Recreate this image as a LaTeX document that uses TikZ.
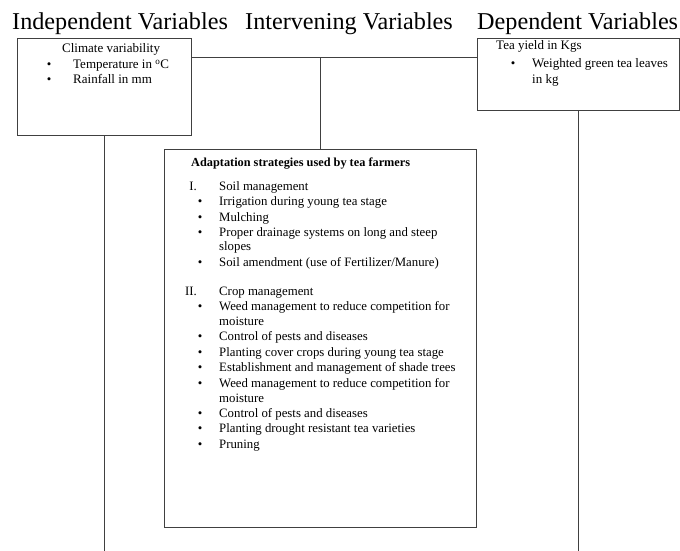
\documentclass[tikz,border=0pt]{standalone}
\usepackage{fontspec}
\setmainfont{Liberation Serif}
\begin{document}
\begin{tikzpicture}[x=1pt,y=-1pt,
  box/.style={draw=black!75,line width=0.8pt,inner sep=0pt},
  conn/.style={draw=black!75,line width=0.8pt},
  hdr/.style={anchor=base west,inner sep=0pt,font=\fontsize{24.2}{27}\selectfont},
  txt/.style={anchor=base west,inner sep=0pt,font=\fontsize{12.8}{15}\selectfont},
  stxt/.style={anchor=base west,inner sep=0pt,font=\fontsize{13}{15}\selectfont},
  num/.style={anchor=base east,inner sep=0pt,font=\fontsize{12.8}{15}\selectfont},
  bul/.style={anchor=base,inner sep=0pt,font=\fontsize{12.8}{15}\selectfont}]
\useasboundingbox (0,0) rectangle (680,551);
% headers
\node[hdr] (h1) at (12,30) {Independent Variables};
\node[hdr] (h2) at (245,30) {Intervening Variables};
\node[hdr] (h3) at (477,30) {Dependent Variables};
% boxes
\node[box,minimum width=174pt,minimum height=97pt] (ind) at (104,86.5) {};
\node[box,minimum width=202pt,minimum height=72pt] (dep) at (578,74) {};
\node[box,minimum width=312pt,minimum height=378pt] (med) at (320,338) {};
% connectors
\coordinate (j) at (320,57.5);
\coordinate (bot) at (0,551);
\draw[conn] (ind.east |- j) -- (dep.west |- j);
\draw[conn] (j) -- (med.north);
\draw[conn] (ind.south) -- (ind.south |- bot);
\draw[conn] (dep.south) -- (dep.south |- bot);
% left box text
\node[stxt] (l1) at (62,53) {Climate variability};
\node[bul] (lb1) at (49,68.5) {\textbullet};
\node[stxt] (l2) at (73,68.5) {Temperature in \textsuperscript{o}C};
\node[bul] (lb2) at (49,83) {\textbullet};
\node[stxt] (l3) at (73,83) {Rainfall in mm};
% right box text
\node[stxt] (r1) at (496,50) {Tea yield in Kgs};
\node[bul] (rb1) at (513,67) {\textbullet};
\node[stxt] (r2) at (532,67) {Weighted green tea leaves};
\node[stxt] (r3) at (532,83) {in kg};
% middle box text
\node[txt,font=\fontsize{12.3}{15}\selectfont\bfseries] (m0) at (191,166) {Adaptation strategies used by tea farmers};
\node[num] (n1) at (197,190) {I.};
\node[txt] (s1) at (219,190) {Soil management};
\node[bul] (b1) at (200,205) {\textbullet};
\node[txt] (t1) at (219,205) {Irrigation during young tea stage};
\node[bul] (b2) at (200,221) {\textbullet};
\node[txt] (t2) at (219,221) {Mulching};
\node[bul] (b3) at (200,236) {\textbullet};
\node[txt] (t3) at (219,236) {Proper drainage systems on long and steep};
\node[txt] (t3b) at (219,250) {slopes};
\node[bul] (b4) at (200,266) {\textbullet};
\node[txt] (t4) at (219,266) {Soil amendment (use of Fertilizer/Manure)};
\node[num] (n2) at (197,295) {II.};
\node[txt] (s2) at (219,295) {Crop management};
\node[bul] (b5) at (200,310) {\textbullet};
\node[txt] (t5) at (219,310) {Weed management to reduce competition for};
\node[txt] (t5b) at (219,325) {moisture};
\node[bul] (b6) at (200,340) {\textbullet};
\node[txt] (t6) at (219,340) {Control of pests and diseases};
\node[bul] (b7) at (200,356) {\textbullet};
\node[txt] (t7) at (219,356) {Planting cover crops during young tea stage};
\node[bul] (b8) at (200,371) {\textbullet};
\node[txt] (t8) at (219,371) {Establishment and management of shade trees};
\node[bul] (b9) at (200,387) {\textbullet};
\node[txt] (t9) at (219,387) {Weed management to reduce competition for};
\node[txt] (t9b) at (219,402) {moisture};
\node[bul] (b10) at (200,417) {\textbullet};
\node[txt] (t10) at (219,417) {Control of pests and diseases};
\node[bul] (b11) at (200,432) {\textbullet};
\node[txt] (t11) at (219,432) {Planting drought resistant tea varieties};
\node[bul] (b12) at (200,448) {\textbullet};
\node[txt] (t12) at (219,448) {Pruning};
\end{tikzpicture}
\end{document}
